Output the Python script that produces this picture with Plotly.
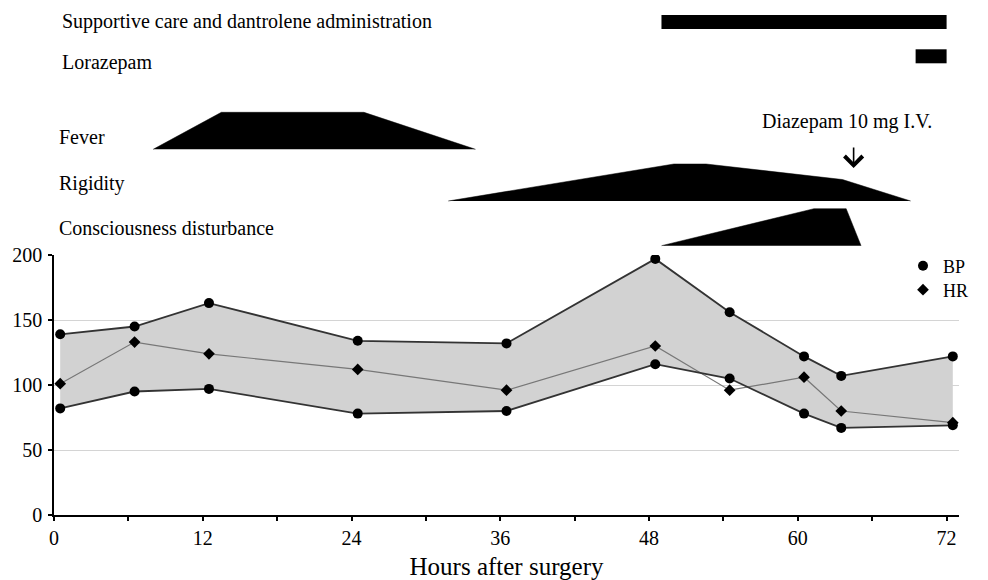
import plotly.graph_objects as go

# ---------------- data ----------------
hours = [0.5, 6.5, 12.5, 24.5, 36.5, 48.5, 54.5, 60.5, 63.5, 72.5]
bp_sys = [139, 145, 163, 134, 132, 197, 156, 122, 107, 122]
bp_dia = [82, 95, 97, 78, 80, 116, 105, 78, 67, 69]
hr = [101, 133, 124, 112, 96, 130, 96, 106, 80, 71]

x_ticks = [0, 6, 12, 18, 24, 30, 36, 42, 48, 54, 60, 66, 72]
x_ticktext = ["0", "", "12", "", "24", "", "36", "", "48", "", "60", "", "72"]
y_ticks = [0, 50, 100, 150, 200]

support_span = [49, 72]
loraz_span = [69.5, 72]
fever_t = [8, 13.5, 25, 34]
fever_i = [0, 1, 1, 0]
rigid_t = [31.8, 50, 52.6, 63.6, 69.1]
rigid_i = [0, 1, 1, 0.58, 0]
consc_t = [49, 61.3, 63.9, 65.1]
consc_i = [0, 1, 1, 0]
diazepam_t = 64.5

# ---------------- layout params ----------------
W, H = 988, 580
ML, MR, MT, MB = 54, 29, 5, 65
PW, PH = W - ML - MR, H - MT - MB
lower_top_px = 255
split = (H - MB - lower_top_px) / PH
# upper axis: 1 unit = 1 px, value 0 at pixel y=255
def up(py):
    return lower_top_px - py

row_base = {"fever": up(149.3), "rigid": up(201), "consc": up(245.7)}
row_height = 37
support_y = up(22)
loraz_y = up(56.3)
bar_h = 14

FONT = "Liberation Serif, Times New Roman, serif"

def px(x):
    return (x - ML) / PW

def py(y):
    return (H - MB - y) / PH

fig = go.Figure()

# gray band between systolic and diastolic
fig.add_trace(go.Scatter(x=hours, y=bp_dia, mode="lines", line=dict(width=0),
                         showlegend=False, hoverinfo="skip"))
fig.add_trace(go.Scatter(x=hours, y=bp_sys, mode="lines", line=dict(width=0),
                         fill="tonexty", fillcolor="#d2d2d2",
                         showlegend=False, hoverinfo="skip"))

# HR
fig.add_trace(go.Scatter(x=hours, y=hr, mode="lines+markers",
                         line=dict(color="#777777", width=1.2),
                         marker=dict(symbol="diamond", size=9, color="black"),
                         showlegend=False, name="HR"))
# BP
for ser in (bp_sys, bp_dia):
    fig.add_trace(go.Scatter(x=hours, y=ser, mode="lines+markers",
                             line=dict(color="#333333", width=1.8),
                             marker=dict(symbol="circle", size=10, color="black"),
                             showlegend=False, name="BP"))

# legend-only entries
fig.add_trace(go.Scatter(x=[None], y=[None], mode="markers", name="BP", legend="legend",
                         marker=dict(symbol="circle", size=10, color="black")))
fig.add_trace(go.Scatter(x=[None], y=[None], mode="markers", name="HR", legend="legend2",
                         marker=dict(symbol="diamond", size=9, color="black")))

# timeline bars
for span, yc in ((support_span, support_y), (loraz_span, loraz_y)):
    fig.add_trace(go.Bar(y=[yc], x=[span[1] - span[0]], base=[span[0]],
                         orientation="h", width=bar_h, marker=dict(color="black", line=dict(width=0)),
                         xaxis="x", yaxis="y2", showlegend=False, hoverinfo="skip"))

# symptom profiles
for t, inten, key in ((fever_t, fever_i, "fever"), (rigid_t, rigid_i, "rigid"),
                      (consc_t, consc_i, "consc")):
    fig.add_trace(go.Scatter(x=t, y=[row_base[key] + v * row_height for v in inten],
                             mode="lines", fill="toself", fillcolor="black",
                             line=dict(color="black", width=0.5),
                             xaxis="x", yaxis="y2", showlegend=False, hoverinfo="skip"))

annos = []
labels = [("Supportive care and dantrolene administration", 60, 21),
          ("Lorazepam", 60, 62),
          ("Fever", 57, 137),
          ("Rigidity", 57, 183),
          ("Consciousness disturbance", 57, 228)]
for txt, lx, ly in labels:
    annos.append(dict(text=txt, xref="paper", yref="paper", x=px(lx), y=py(ly),
                      xanchor="left", yanchor="middle", showarrow=False,
                      font=dict(family=FONT, size=20, color="black")))
annos.append(dict(text="Diazepam 10 mg I.V.", xref="paper", yref="paper",
                  x=px(847), y=py(122), xanchor="center", yanchor="middle",
                  showarrow=False, font=dict(family=FONT, size=20, color="black")))
annos.append(dict(text="", xref="x", yref="y2", x=diazepam_t, y=up(168),
                  ax=0, ay=-21, showarrow=True, arrowhead=4, arrowsize=2.2,
                  arrowwidth=1.6, arrowcolor="black", borderpad=0,
                  font=dict(size=1)))

leg_common = dict(xanchor="left", yanchor="middle", bgcolor="rgba(0,0,0,0)",
                  font=dict(family=FONT, size=18), itemwidth=30, borderwidth=0)

fig.update_layout(
    template="none",
    width=W, height=H,
    margin=dict(l=ML, r=MR, t=MT, b=MB, pad=0, autoexpand=False),
    paper_bgcolor="white", plot_bgcolor="white",
    font=dict(family=FONT, size=20, color="black"),
    barmode="overlay",
    showlegend=True,
    legend=dict(x=px(903), y=py(266), **leg_common),
    legend2=dict(x=px(903), y=py(290), **leg_common),
    annotations=annos,
    xaxis=dict(range=[0, 73], tickvals=x_ticks, ticktext=x_ticktext,
               showgrid=False, zeroline=False, showline=True, linecolor="black",
               linewidth=1.5, ticks="outside", ticklen=4, tickcolor="black",
               tickwidth=1.5, anchor="y", automargin=False,
               title=dict(text="Hours after surgery", font=dict(family=FONT, size=25),
                          standoff=10),
               tickfont=dict(family=FONT, size=20)),
    yaxis=dict(domain=[0, split], range=[0, 200], tickvals=y_ticks,
               showgrid=True, gridcolor="#d4d4d4", gridwidth=1, zeroline=False,
               showline=True, linecolor="black", linewidth=1.5, ticks="outside",
               ticklen=4, tickcolor="black", tickwidth=1.5, automargin=False,
               tickfont=dict(family=FONT, size=20), ticklabelstandoff=2),
    yaxis2=dict(domain=[split, 1], range=[0, lower_top_px - MT], visible=False,
                anchor="x", fixedrange=True, automargin=False),
)

fig.write_html("out.html", config={"displayModeBar": False},
               post_script="document.body.style.margin='0';")
